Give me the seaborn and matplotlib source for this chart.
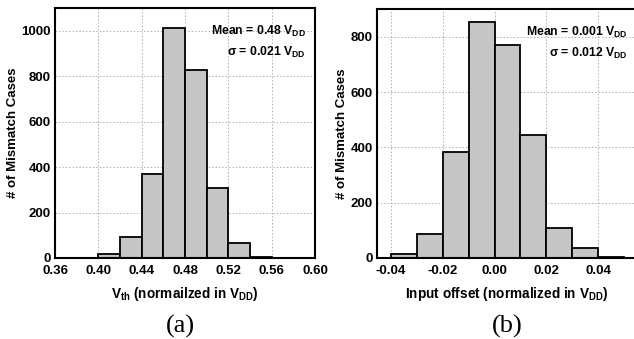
import numpy as np
import pandas as pd
import matplotlib
matplotlib.use("Agg")
import matplotlib.pyplot as plt
import seaborn as sns

# (a) threshold voltage histogram
vth_edges = [0.38, 0.40, 0.42, 0.44, 0.46, 0.48, 0.50, 0.52, 0.54, 0.56]
vth_counts = [0, 18, 92, 368, 1012, 828, 308, 65, 5]

# (b) input offset histogram
off_edges = [-0.04, -0.03, -0.02, -0.01, 0.00, 0.01, 0.02, 0.03, 0.04, 0.05]
off_counts = [16, 87, 384, 853, 770, 445, 107, 37, 3]

sns.set_style("ticks")
plt.rcParams['font.family'] = ['Liberation Sans', 'DejaVu Sans']
plt.rcParams['font.weight'] = 'bold'
plt.rcParams['text.color'] = 'black'
plt.rcParams['axes.labelcolor'] = 'black'
plt.rcParams['xtick.color'] = 'black'
plt.rcParams['ytick.color'] = 'black'
plt.rcParams['mathtext.fontset'] = 'custom'
plt.rcParams['mathtext.rm'] = 'Liberation Sans:bold'
plt.rcParams['mathtext.it'] = 'Liberation Sans:bold'
plt.rcParams['mathtext.bf'] = 'Liberation Sans:bold'

def to_df(edges, counts):
    e = np.array(edges)
    return pd.DataFrame({"x": (e[:-1] + e[1:]) / 2, "n": counts})

fig = plt.figure(figsize=(6.34, 3.39), dpi=100)
ax1 = fig.add_axes([0.087, 0.239, 0.410, 0.737])
ax2 = fig.add_axes([0.595, 0.239, 0.408, 0.734])

panels = [
    (ax1, to_df(vth_edges, vth_counts), vth_edges, (0.36, 0.60), (0, 1100),
     np.arange(0.36, 0.601, 0.04), range(0, 1001, 200),
     r"V$_{th}$ (normailzed in V$_{DD}$)",
     [r"Mean = 0.48 V$_{DD}$", r"$\sigma$ = 0.021 V$_{DD}$"], 0.965),
    (ax2, to_df(off_edges, off_counts), off_edges, (-0.0452, 0.0545), (0, 900),
     np.arange(-0.04, 0.041, 0.02), range(0, 801, 200),
     r"Input offset (normalized in V$_{DD}$)",
     [r"Mean = 0.001 V$_{DD}$", r"$\sigma$ = 0.012 V$_{DD}$"], 0.97),
]

for ax, df, edges, xl, yl, xt, yt, xlab, notes, tx in panels:
    sns.histplot(data=df, x="x", weights="n", bins=edges, ax=ax,
                 color="#c6c6c6", edgecolor="black", linewidth=1.3, alpha=1)
    ax.set_xlim(*xl)
    ax.set_ylim(*yl)
    ax.set_xticks(xt)
    ax.set_xticklabels(["{:.2f}".format(v).replace("-0.00", "0.00") for v in xt])
    ax.set_yticks(list(yt))
    ax.grid(True, linestyle=(0, (1.5, 2)), color="#b0b0b0", linewidth=0.7)
    ax.set_axisbelow(True)
    for s in ax.spines.values():
        s.set_linewidth(1.5)
        s.set_color("black")
    ax.tick_params(axis="y", length=0, labelsize=9.5, pad=3)
    ax.tick_params(axis="x", length=0, labelsize=9.5, pad=5)
    ax.set_ylabel("# of Mismatch Cases", fontsize=9.5, fontweight="bold", labelpad=2)
    ax.set_xlabel(xlab, fontsize=9.8, fontweight="bold", labelpad=6)
    ax.text(tx, 0.905, notes[0], transform=ax.transAxes, ha="right",
            va="center", fontsize=8.8, fontweight="bold")
    ax.text(tx, 0.822, notes[1], transform=ax.transAxes, ha="right",
            va="center", fontsize=8.8, fontweight="bold")

fig.text(180 / 634, 1 - 326 / 339, "(a)", family="Liberation Serif",
         fontweight="normal", fontsize=19, ha="center", va="center")
fig.text(507 / 634, 1 - 326 / 339, "(b)", family="Liberation Serif",
         fontweight="normal", fontsize=19, ha="center", va="center")

fig.savefig("out.png", dpi=100)
